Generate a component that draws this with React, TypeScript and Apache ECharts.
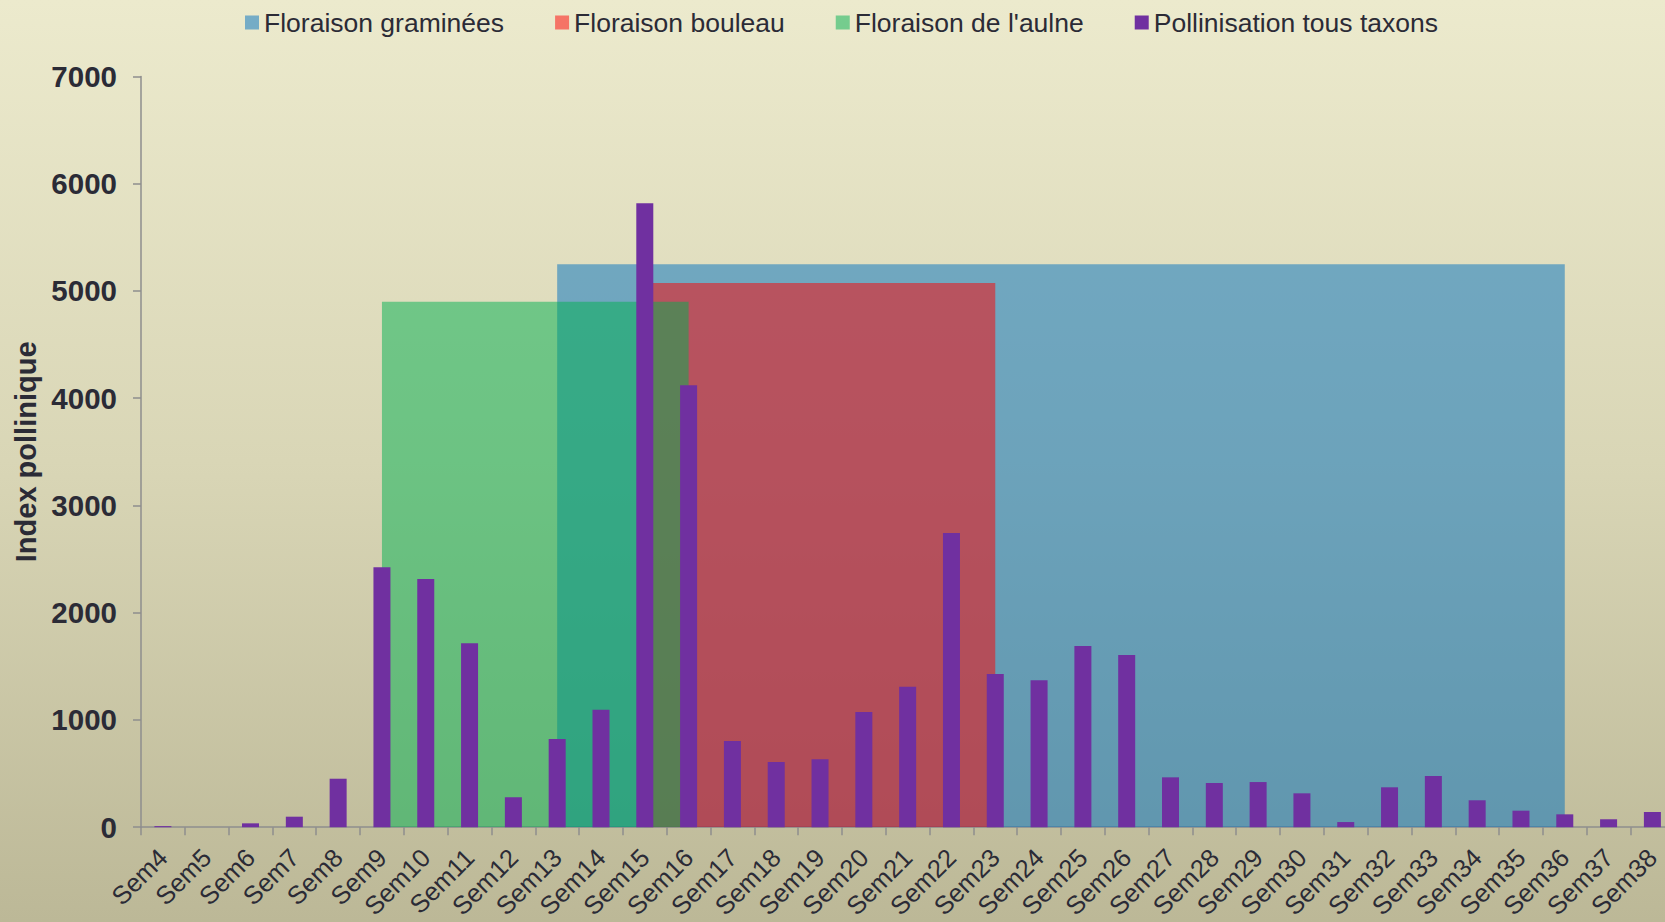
import React, { useEffect, useRef } from "react";
import * as echarts from "echarts";

const weeks = [
  "Sem4", "Sem5", "Sem6", "Sem7", "Sem8", "Sem9", "Sem10", "Sem11", "Sem12",
  "Sem13", "Sem14", "Sem15", "Sem16", "Sem17", "Sem18", "Sem19", "Sem20",
  "Sem21", "Sem22", "Sem23", "Sem24", "Sem25", "Sem26", "Sem27", "Sem28",
  "Sem29", "Sem30", "Sem31", "Sem32", "Sem33", "Sem34", "Sem35", "Sem36",
  "Sem37", "Sem38",
];

const pollination = [
  10, 0, 36, 98, 452, 2423, 2314, 1715, 279, 822, 1096, 5818, 4121, 804, 608,
  633, 1074, 1310, 2743, 1429, 1370, 1690, 1606, 465, 412, 421, 316, 48, 372,
  477, 251, 154, 120, 74, 142,
];

// Flowering periods: first week, last week, level drawn
const grassBloom = { from: "Sem13", to: "Sem36", level: 5250 };
const birchBloom = { from: "Sem15", to: "Sem23", level: 5075 };
const alderBloom = { from: "Sem9", to: "Sem16", level: 4900 };

const yTicks = { min: 0, max: 7000, interval: 1000 };

const seriesNames = [
  "Floraison graminées",
  "Floraison bouleau",
  "Floraison de l'aulne",
  "Pollinisation tous taxons",
];

const FONT = "'Liberation Sans', Arial, sans-serif";
const TEXT = "#2b2b36";
const AXIS = "#8e8e8e";

function periodData(p: { from: string; to: string; level: number }) {
  const a = weeks.indexOf(p.from);
  const b = weeks.indexOf(p.to);
  return weeks.map((_, i) => (i >= a && i <= b ? p.level : null));
}

const BLUE = "rgba(0,112,192,0.5)";
const RED = "rgba(255,0,0,0.5)";
const GREEN = "rgba(0,176,80,0.5)";
const PURPLE = "#7030a0";

export default function App() {
  const ref = useRef<HTMLDivElement>(null);
  useEffect(() => {
    document.body.style.margin = "0";
    const chart = echarts.init(ref.current!, null, { renderer: "svg" });
    const area = (name: string, color: string, data: (number | null)[], z: number) => ({
      name,
      type: "line",
      data,
      color,
      z,
      showSymbol: false,
      symbol: "none",
      connectNulls: false,
      lineStyle: { width: 0, color },
      areaStyle: { color, opacity: 1 },
      emphasis: { disabled: true },
    });
    chart.setOption({
      animation: false,
      textStyle: { fontFamily: FONT },
      legend: {
        left: 245,
        top: 9,
        padding: 0,
        itemGap: 51,
        itemWidth: 14,
        itemHeight: 14,
        icon: "rect",
        textStyle: { fontSize: 26.5, color: TEXT, fontFamily: FONT },
        data: [
          { name: seriesNames[0], itemStyle: { color: BLUE, borderWidth: 0 } },
          { name: seriesNames[1], itemStyle: { color: RED, borderWidth: 0 } },
          { name: seriesNames[2], itemStyle: { color: GREEN, borderWidth: 0 } },
          { name: seriesNames[3], itemStyle: { color: PURPLE, borderWidth: 0 } },
        ],
      },
      grid: {
        left: 141,
        top: 76.5,
        width: 1533.3,
        height: 750.7,
        containLabel: false,
        outerBoundsMode: "none",
      },
      xAxis: {
        type: "category",
        data: weeks,
        boundaryGap: true,
        axisLine: { lineStyle: { color: AXIS, width: 1.5 } },
        axisTick: { show: true, length: 8, interval: 0, lineStyle: { color: AXIS, width: 1.5 } },
        axisLabel: {
          interval: 0,
          rotate: 45,
          fontSize: 25.5,
          color: TEXT,
          fontFamily: FONT,
          margin: 26,
        },
        splitLine: { show: false },
      },
      yAxis: {
        type: "value",
        min: yTicks.min,
        max: yTicks.max,
        interval: yTicks.interval,
        name: "Index pollinique",
        nameLocation: "middle",
        nameGap: 97,
        nameTextStyle: { fontSize: 29, fontWeight: "bold", color: TEXT, fontFamily: FONT },
        axisLine: { show: true, lineStyle: { color: AXIS, width: 1.5 } },
        axisTick: { show: true, length: 8, lineStyle: { color: AXIS, width: 1.5 } },
        axisLabel: {
          fontSize: 29.5,
          fontWeight: "bold",
          color: TEXT,
          margin: 24,
          fontFamily: FONT,
          formatter: (v: number) => String(v),
        },
        splitLine: { show: false },
      },
      series: [
        area(seriesNames[0], BLUE, periodData(grassBloom), 1),
        area(seriesNames[1], RED, periodData(birchBloom), 2),
        area(seriesNames[2], GREEN, periodData(alderBloom), 3),
        {
          name: seriesNames[3],
          type: "bar",
          data: pollination,
          barWidth: 17,
          z: 5,
          itemStyle: { color: PURPLE, borderWidth: 0 },
          emphasis: { disabled: true },
        },
      ],
    });
    return () => chart.dispose();
  }, []);
  return (
    <div
      ref={ref}
      style={{
        position: "fixed",
        left: 0,
        top: 0,
        width: 1665,
        height: 922,
        background: "linear-gradient(to bottom, #eceacd 0%, #d9d6b6 50%, #bcb897 100%)",
      }}
    />
  );
}
